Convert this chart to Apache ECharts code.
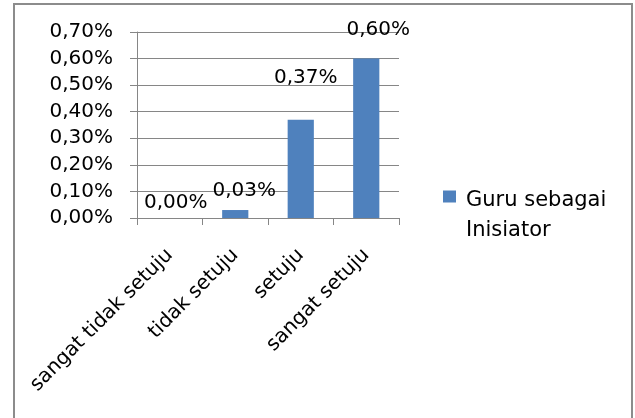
<!DOCTYPE html>
<html>
<head>
<meta charset="utf-8">
<script src="https://cdn.jsdelivr.net/npm/echarts@6/dist/echarts.min.js"></script>
<style>
  html, body { margin: 0; padding: 0; background: #fff; }
  #chart { width: 635px; height: 418px; }
</style>
</head>
<body>
<div id="chart"></div>
<script>
// Survey answers and share of respondents (in percent)
const categories = ['sangat tidak setuju', 'tidak setuju', 'setuju', 'sangat setuju'];
const seriesName = 'Guru sebagai Inisiator';
const values = [0.00, 0.03, 0.37, 0.60];
const yTicks = { min: 0, max: 0.7, interval: 0.1 };

// Hand-placed value labels: small nudges [dx, dy] per bar
const labelNudge = [[6, 0], [9, -4], [5, -27], [12, -14]];

const fmtPct = v => v.toFixed(2).replace('.', ',') + '%';
const FONT = 'DejaVu Sans';
const GRID_GREY = '#868686';

const chart = echarts.init(document.getElementById('chart'), null, { renderer: 'canvas' });

chart.setOption({
  backgroundColor: '#fff',
  animation: false,
  textStyle: { fontFamily: FONT },
  graphic: [{
    type: 'rect',
    shape: { x: 14, y: 4, width: 618, height: 430 },
    style: { fill: 'none', stroke: '#8c8c8c', lineWidth: 2 },
    silent: true
  }],
  grid: { left: 137, right: 236, top: 32, bottom: 200, containLabel: false },
  legend: {
    data: [seriesName],
    left: 443,
    top: 156,
    padding: 0,
    itemWidth: 13,
    itemHeight: 12,
    icon: 'rect',
    selectedMode: false,
    // blank first line pushes "Guru sebagai" level with the swatch
    formatter: () => '{gap|}\n{t|Guru sebagai}\n{t|Inisiator}',
    textStyle: {
      fontFamily: FONT, fontSize: 21, color: '#000',
      padding: [0, 0, 0, 5],
      rich: {
        gap: { lineHeight: 38, fontSize: 21 },
        t: { lineHeight: 30, fontSize: 21, fontFamily: FONT, color: '#000' }
      }
    }
  },
  xAxis: {
    type: 'category',
    data: categories,
    axisLine: { lineStyle: { color: GRID_GREY, width: 1 } },
    axisTick: { show: true, length: 7, alignWithLabel: false, lineStyle: { color: GRID_GREY } },
    axisLabel: {
      rotate: 45, margin: 34, interval: 0,
      fontFamily: FONT, fontSize: 20, color: '#000'
    }
  },
  yAxis: {
    type: 'value',
    min: yTicks.min, max: yTicks.max, interval: yTicks.interval,
    axisLine: { show: true, lineStyle: { color: GRID_GREY, width: 1 } },
    axisTick: { show: true, length: 7, lineStyle: { color: GRID_GREY } },
    splitLine: { show: true, lineStyle: { color: GRID_GREY, width: 1 } },
    axisLabel: {
      margin: 24, fontFamily: FONT, fontSize: 20, color: '#000',
      formatter: v => fmtPct(v)
    }
  },
  series: [{
    name: seriesName,
    type: 'bar',
    barWidth: '40%',
    itemStyle: { color: '#4F81BD' },
    data: values.map((v, i) => ({
      value: v,
      label: { offset: labelNudge[i] }
    })),
    label: {
      show: true,
      position: 'top',
      distance: 5,
      fontFamily: FONT, fontSize: 20, color: '#000',
      formatter: p => fmtPct(p.value)
    }
  }]
});
</script>
</body>
</html>
